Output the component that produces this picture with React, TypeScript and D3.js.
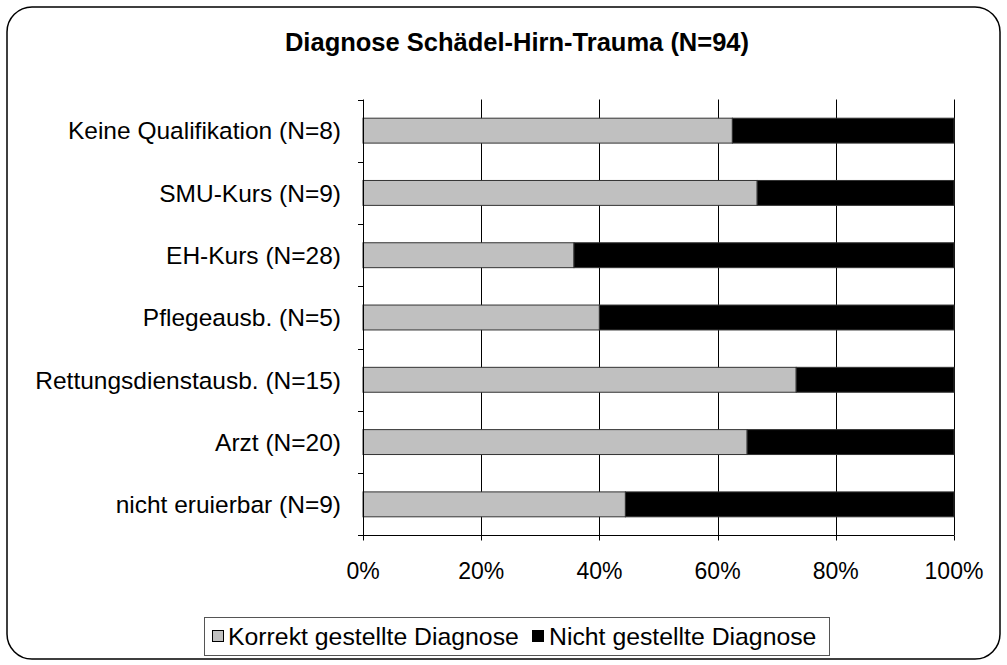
import React from "react";
import * as d3 from "d3";

const categories = [
  "Keine Qualifikation (N=8)",
  "SMU-Kurs (N=9)",
  "EH-Kurs (N=28)",
  "Pflegeausb. (N=5)",
  "Rettungsdienstausb. (N=15)",
  "Arzt (N=20)",
  "nicht eruierbar (N=9)",
];
const korrekt = [62.5, 66.7, 35.7, 40.0, 73.3, 65.0, 44.4];
const nicht = [37.5, 33.3, 64.3, 60.0, 26.7, 35.0, 55.6];
const xTicks = [0, 20, 40, 60, 80, 100];
const seriesNames = ["Korrekt gestellte Diagnose", "Nicht gestellte Diagnose"];
const seriesColors = ["#c0c0c0", "#000000"];

const W = 1007;
const H = 665;
const FONT = "'Liberation Sans', Arial, sans-serif";

export default function App() {
  const left = 363;
  const right = 954;
  const top = 99.5;
  const bottom = 535.5;
  const x = d3.scaleLinear().domain([0, 100]).range([left, right]);
  const y = d3.scaleBand<string>().domain(categories).range([top, bottom]).paddingInner(0.6).paddingOuter(0.3);
  const yb = d3.scaleBand<string>().domain(categories).range([top, bottom]);
  const bw = y.bandwidth();

  return (
    <svg width={W} height={H} style={{ position: "absolute", left: 0, top: 0 }} fontFamily={FONT}>
      <rect x={0} y={0} width={W} height={H} fill="#fff" />
      <rect x={7} y={7} width={993} height={652} rx={25} ry={25} fill="#fff" stroke="#000" strokeWidth={1.5} />
      <text x={517} y={51} textAnchor="middle" fontSize={25.5} fontWeight="bold" fill="#000">
        Diagnose Schädel-Hirn-Trauma (N=94)
      </text>
      {xTicks.slice(1).map((t) => (
        <line key={t} x1={Math.round(x(t)) + 0.5} x2={Math.round(x(t)) + 0.5} y1={top} y2={bottom} stroke="#000" strokeWidth={1} />
      ))}
      {categories.map((c, i) => {
        const yy = y(c)!;
        return (
          <g key={c}>
            <rect x={x(0)} y={yy} width={x(korrekt[i]) - x(0)} height={bw} fill={seriesColors[0]} stroke="#333" strokeWidth={1} />
            <rect x={x(korrekt[i])} y={yy} width={x(korrekt[i] + nicht[i]) - x(korrekt[i])} height={bw} fill={seriesColors[1]} stroke="#333" strokeWidth={1} />
          </g>
        );
      })}
      <line x1={left + 0.5} x2={left + 0.5} y1={top} y2={bottom} stroke="#000" />
      {categories.map((c) => (
        <line key={"t" + c} x1={left - 5} x2={left} y1={Math.round(yb(c)!) + 0.5} y2={Math.round(yb(c)!) + 0.5} stroke="#000" />
      ))}
      <line x1={left - 5} x2={left} y1={bottom} y2={bottom} stroke="#000" />
      {categories.map((c) => (
        <text key={"l" + c} x={341} y={y(c)! + bw / 2} dy="0.36em" textAnchor="end" fontSize={24.5} fill="#000">
          {c}
        </text>
      ))}
      <line x1={left} x2={right} y1={bottom} y2={bottom} stroke="#000" />
      {xTicks.map((t) => (
        <g key={"x" + t}>
          <line x1={Math.round(x(t)) + 0.5} x2={Math.round(x(t)) + 0.5} y1={bottom} y2={bottom + 5} stroke="#000" />
          <text x={x(t)} y={579} textAnchor="middle" fontSize={23} fill="#000">
            {t}%
          </text>
        </g>
      ))}
      <rect x={204.5} y={617.5} width={625} height={38} fill="#fff" stroke="#555" strokeWidth={1} />
      <rect x={212.5} y={630.5} width={11} height={11} fill={seriesColors[0]} stroke="#000" />
      <text x={228} y={645} fontSize={24.8} fill="#000">{seriesNames[0]}</text>
      <rect x={532.5} y={630.5} width={11} height={11} fill={seriesColors[1]} stroke="#000" />
      <text x={549} y={645} fontSize={24.8} fill="#000">{seriesNames[1]}</text>
    </svg>
  );
}
